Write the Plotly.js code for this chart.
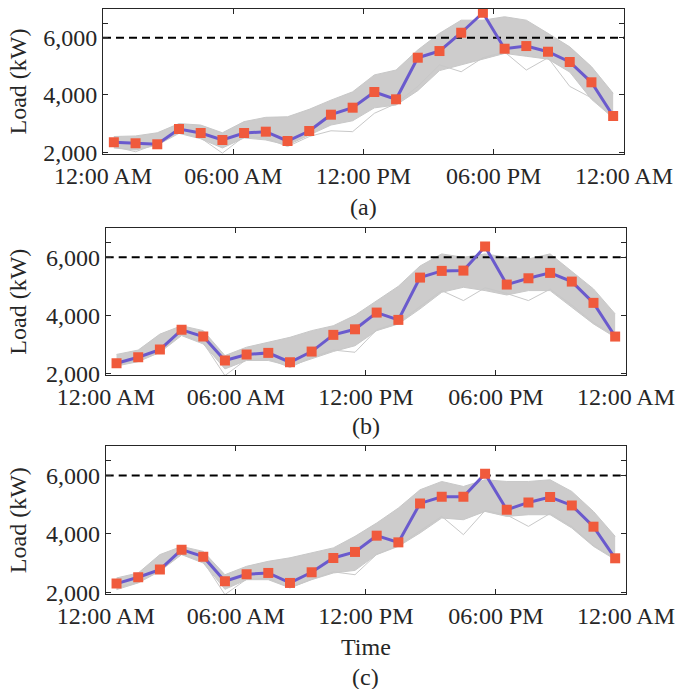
<!DOCTYPE html>
<html>
<head>
<meta charset="utf-8">
<script src="https://cdn.plot.ly/plotly-3.0.1.min.js"></script>
<style>html,body{margin:0;padding:0;background:#fff;}#chart{width:678px;height:689px;}</style>
</head>
<body>
<div id="chart"></div>
<script>
// ---- data ----
const hours = [0.5,1.5,2.5,3.5,4.5,5.5,6.5,7.5,8.5,9.5,10.5,11.5,12.5,13.5,14.5,15.5,16.5,17.5,18.5,19.5,20.5,21.5,22.5,23.5];
const tickHours = [0, 6, 12, 18, 24];
const tickLabels = ['12:00 AM', '06:00 AM', '12:00 PM', '06:00 PM', '12:00 AM'];
const yTickVals = [2000, 4000, 6000, 6500];
const yTickText = ['2,000', '4,000', '6,000', ''];
const capacity = 6000;
const panelLabels = ['(a)', '(b)', '(c)'];

// panel (a)
const meanA  = [2350,2314,2279,2813,2673,2429,2673,2719,2394,2743,3312,3556,4103,3849,5300,5533,6172,6869,5614,5707,5509,5150,4442,3266];
const upperA = [2550,2570,2680,3000,2950,2680,3070,3220,3240,3500,3820,4110,4700,4870,5570,6150,6610,6610,6730,6610,6150,5680,4990,4060];
const lowerA = [2150,2080,2250,2660,2470,2150,2500,2430,2250,2600,2950,3100,3550,3650,4150,4850,5050,5250,5450,5350,5250,4800,3850,3200];
const outA   = [2200,2020,2300,2700,2500,1970,2550,2500,2200,2550,2750,2720,3360,3700,4300,5050,4810,5300,5500,4870,5300,4300,3900,3250];

// panel (b)
const meanB  = [2345,2552,2817,3497,3266,2438,2645,2703,2380,2748,3324,3517,4093,3841,5300,5531,5541,6369,5059,5276,5462,5162,4428,3266];
const upperB = [2650,2800,3350,3640,3470,2610,2900,3070,3240,3470,3640,4000,4500,5000,5700,6117,6000,6117,6000,5943,6117,5517,4910,4048];
const lowerB = [2250,2400,2720,3300,3010,2150,2440,2440,2250,2500,2750,2950,3470,3700,4221,4793,4966,4851,4700,4851,4851,4276,3703,3241];
const outB   = [2300,2450,2750,3350,3050,1920,2480,2500,2200,2550,2800,2724,3500,3750,4300,4850,4507,4950,4750,4507,4900,4350,3750,3300];

// panel (c)
const meanC  = [2297,2513,2776,3460,3220,2376,2616,2661,2319,2684,3174,3381,3938,3709,5043,5272,5272,6058,4827,5077,5262,4974,4246,3163];
const upperC = [2490,2660,3290,3570,3400,2600,2890,3060,3180,3350,3520,3915,4373,4885,5511,5795,5624,5853,5795,5795,5853,5453,4769,3915];
const lowerC = [2090,2320,2720,3290,3000,2100,2430,2430,2150,2430,2660,2750,3289,3573,4031,4543,4485,4769,4598,4656,4656,4202,3573,3118];
const outC   = [2150,2350,2750,3300,3050,1920,2450,2480,2150,2450,2700,2600,3300,3600,4100,4600,3973,4800,4650,4256,4700,4250,3600,3150];

// ---- styling ----
const W = 678, H = 689;
const FONT = '"Liberation Serif", "Times New Roman", Times, serif';
const TXT = '#262626';
const GRAY = 'rgb(200,200,200)';
const PURPLE = '#6a5acd';
const ORANGE = '#f05a3c';
const FS = 24;

const panels = [
  {mean: meanA, upper: upperA, lower: lowerA, out: outA, px: [103, 624], py: [9, 154],   cap: 207},
  {mean: meanB, upper: upperB, lower: lowerB, out: outB, px: [105.7, 626], py: [228.3, 375], cap: 426},
  {mean: meanC, upper: upperC, lower: lowerC, out: outC, px: [105.7, 626], py: [446.3, 594], cap: 677}
];

const traces = [];
const layout = {
  width: W, height: H,
  margin: {l: 0, r: 0, t: 0, b: 0},
  paper_bgcolor: '#fff', plot_bgcolor: '#fff',
  showlegend: false,
  font: {family: FONT, size: FS, color: TXT},
  annotations: []
};

panels.forEach((p, i) => {
  const n = i === 0 ? '' : String(i + 1);
  const xa = 'x' + n, ya = 'y' + n;
  const line = (y, extra) => Object.assign({type: 'scatter', mode: 'lines', x: hours, y: y, xaxis: xa, yaxis: ya,
    line: {color: GRAY, width: 1}, hoverinfo: 'skip'}, extra || {});
  traces.push(line(p.lower));
  traces.push(line(p.upper, {fill: 'tonexty', fillcolor: 'rgba(200,198,198,0.9)'}));
  traces.push(line(p.out));
  traces.push({type: 'scatter', mode: 'lines', x: [tickHours[0], tickHours[tickHours.length - 1]], y: [capacity, capacity],
    xaxis: xa, yaxis: ya, line: {color: '#000', width: 2, dash: '8px,5px'}});
  traces.push({type: 'scatter', mode: 'lines+markers', x: hours, y: p.mean, xaxis: xa, yaxis: ya,
    line: {color: PURPLE, width: 3}, marker: {symbol: 'square', size: 10, color: ORANGE}});

  const common = {
    showline: true, linecolor: TXT, linewidth: 1, mirror: 'ticks',
    ticks: 'inside', ticklen: 5, tickwidth: 1, tickcolor: TXT,
    showgrid: false, zeroline: false, fixedrange: true,
    tickfont: {family: FONT, size: FS, color: TXT}
  };
  layout['xaxis' + n] = Object.assign({}, common, {
    domain: [p.px[0] / W, p.px[1] / W], range: [0, 24], anchor: ya,
    tickmode: 'array', tickvals: tickHours, ticktext: tickLabels
  });
  layout['yaxis' + n] = Object.assign({}, common, {
    domain: [1 - p.py[1] / H, 1 - p.py[0] / H], range: [1940, 7000], anchor: xa,
    tickmode: 'array', tickvals: yTickVals, ticktext: yTickText
  });
  const cx = (p.px[0] + p.px[1]) / 2 / W;
  layout.annotations.push({xref: 'paper', yref: 'paper', x: 18 / W, y: 1 - (p.py[0] + p.py[1]) / 2 / H,
    text: 'Load (kW)', textangle: -90, showarrow: false, xanchor: 'center', yanchor: 'middle',
    font: {family: FONT, size: FS, color: TXT}});
  layout.annotations.push({xref: 'paper', yref: 'paper', x: cx, y: 1 - p.cap / H,
    text: panelLabels[i], showarrow: false, xanchor: 'center', yanchor: 'middle',
    font: {family: FONT, size: FS, color: TXT}});
  if (i === 2) {
    layout.annotations.push({xref: 'paper', yref: 'paper', x: cx, y: 1 - 647 / H,
      text: 'Time', showarrow: false, xanchor: 'center', yanchor: 'middle',
      font: {family: FONT, size: FS, color: TXT}});
  }
});

Plotly.newPlot('chart', traces, layout, {staticPlot: true, displayModeBar: false});
</script>
</body>
</html>
